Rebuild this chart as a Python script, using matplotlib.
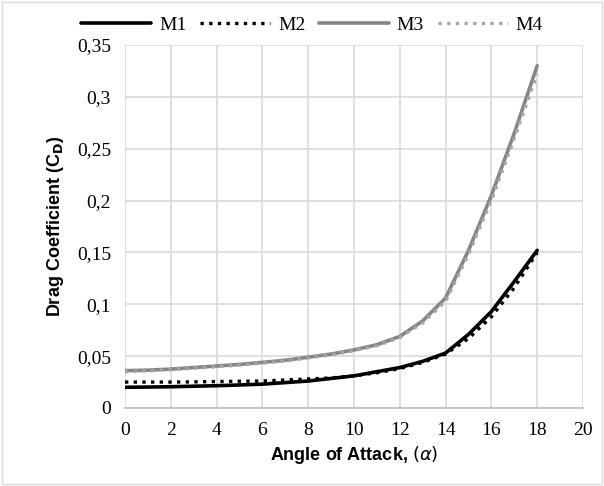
import matplotlib.pyplot as plt
from matplotlib.patches import Rectangle

# angle of attack (deg) and drag coefficients
alpha = [0, 1, 2, 3, 4, 5, 6, 7, 8, 9, 10, 11, 12, 13, 14, 15, 16, 17, 18]
m1 = [0.020, 0.0202, 0.0205, 0.021, 0.0215, 0.0222, 0.023, 0.0245, 0.026, 0.0285,
      0.031, 0.035, 0.039, 0.045, 0.053, 0.071, 0.093, 0.122, 0.152]
m2 = [0.025, 0.025, 0.025, 0.0252, 0.0255, 0.0258, 0.026, 0.027, 0.028, 0.029,
      0.031, 0.034, 0.038, 0.044, 0.052, 0.067, 0.088, 0.116, 0.150]
m3 = [0.036, 0.0365, 0.0375, 0.039, 0.0405, 0.042, 0.044, 0.046, 0.049, 0.052,
      0.056, 0.061, 0.069, 0.084, 0.106, 0.152, 0.205, 0.265, 0.330]
m4 = [0.035, 0.0358, 0.037, 0.0383, 0.0398, 0.0413, 0.0433, 0.0453, 0.0483, 0.0513,
      0.0553, 0.060, 0.068, 0.082, 0.103, 0.148, 0.200, 0.260, 0.322]

xticks = [0, 2, 4, 6, 8, 10, 12, 14, 16, 18, 20]
yticks = [0, 0.05, 0.1, 0.15, 0.2, 0.25, 0.3, 0.35]
ytick_labels = ["0", "0,05", "0,1", "0,15", "0,2", "0,25", "0,3", "0,35"]

serif = "Liberation Serif"
sans = "Liberation Sans"

fig = plt.figure(figsize=(6.04, 4.86), dpi=100)
ax = fig.add_axes([125 / 604, 1 - 408 / 486, 458 / 604, 363 / 486])

ax.plot(alpha, m1, color="black", lw=2.6, label="M1", solid_capstyle="round")
ax.plot(alpha, m2, color="black", lw=2.4, ls=(0, (1, 1.6)), label="M2")
ax.plot(alpha, m3, color="#868686", lw=2.6, label="M3", solid_capstyle="round")
ax.plot(alpha, m4, color="#a6a6a6", lw=2.4, ls=(0, (1, 1.6)), label="M4")

ax.set_xlim(0, 20)
ax.set_ylim(0, 0.35)
ax.set_xticks(xticks)
ax.set_xticklabels([str(t) for t in xticks], fontfamily=serif, fontsize=14)
ax.set_yticks(yticks)
ax.set_yticklabels(ytick_labels, fontfamily=serif, fontsize=14)
ax.tick_params(length=0, pad=10)
ax.grid(True, color="#d9d9d9", lw=1.2)
ax.set_axisbelow(True)
for side in ["top", "right", "left"]:
    ax.spines[side].set_visible(False)
ax.spines["bottom"].set_color("#bfbfbf")
ax.spines["bottom"].set_linewidth(1.2)

ax.set_xlabel(r"Angle of Attack, $(\alpha)$", fontfamily=sans, fontweight="bold",
              fontsize=13, labelpad=4)
ax.set_ylabel(r"Drag Coefficient (C$_\mathbf{D}$)", fontfamily=sans, fontweight="bold",
              fontsize=13, labelpad=8)

leg = fig.legend(loc="center", bbox_to_anchor=(312 / 604, 1 - 25 / 486), ncol=4,
                 frameon=False, handlelength=3.6, columnspacing=0.7, handletextpad=0.4,
                 prop={"family": serif, "size": 14})

fig.patches.append(Rectangle((0.004, 0.004), 0.992, 0.992, transform=fig.transFigure,
                             fill=False, edgecolor="#d9d9d9", lw=1))

fig.savefig("out.png", dpi=100)
